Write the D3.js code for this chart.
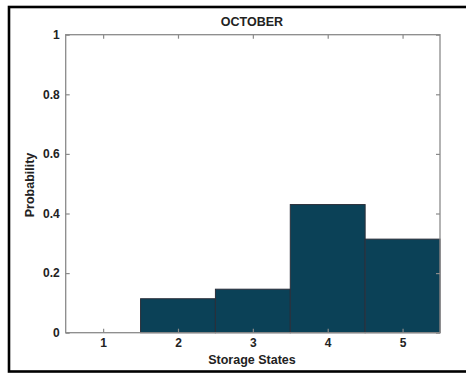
<!DOCTYPE html>
<html><head><meta charset="utf-8">
<script src="https://cdn.jsdelivr.net/npm/d3@7"></script>
<style>body{margin:0;background:#fff}svg{display:block}</style>
</head><body>
<svg id="c" width="466" height="374"></svg>
<script>
const categories = [1, 2, 3, 4, 5];
const probabilities = [0, 0.114, 0.146, 0.430, 0.314];
const yTicks = [0, 0.2, 0.4, 0.6, 0.8, 1];
const yTickLabels = ["0", "0.2", "0.4", "0.6", "0.8", "1"];
const title = "OCTOBER";
const xLabel = "Storage States";
const yLabel = "Probability";

const svg = d3.select("#c");
const m = {l: 65.7, r: 440, t: 34.7, b: 332.7};

// outer frame
svg.append("rect").attr("x", 9).attr("y", 7).attr("width", 470).attr("height", 364.5)
  .attr("fill", "none").attr("stroke", "#000").attr("stroke-width", 2.6);

const x = d3.scaleLinear().domain([0.5, 5.5]).range([m.l, m.r]);
const y = d3.scaleLinear().domain([0, 1]).range([m.b, m.t]);

const font = "'Liberation Sans', Arial, sans-serif";

// bars
svg.append("g").selectAll("rect").data(categories.map((c, i) => ({c, v: probabilities[i]})).filter(d => d.v > 0))
  .join("rect")
  .attr("x", d => x(d.c - 0.5)).attr("width", d => x(d.c + 0.5) - x(d.c - 0.5))
  .attr("y", d => y(d.v)).attr("height", d => y(0) - y(d.v))
  .attr("fill", "#0b4157").attr("stroke", "#2b2f3a").attr("stroke-width", 1);

const axisColor = "#8a8a8a";
svg.append("rect").attr("x", m.l).attr("y", m.t).attr("width", m.r - m.l).attr("height", m.b - m.t)
  .attr("fill", "none").attr("stroke", axisColor).attr("stroke-width", 1.3);

const xb = svg.append("g").attr("transform", `translate(0,${m.b})`)
  .call(d3.axisBottom(x).tickValues(categories).tickSize(-4).tickPadding(6).tickFormat(d3.format("d")));
const yl = svg.append("g").attr("transform", `translate(${m.l},0)`)
  .call(d3.axisLeft(y).tickValues(yTicks).tickSize(-4).tickPadding(6).tickFormat((d, i) => yTickLabels[i]));
const xt = svg.append("g").attr("transform", `translate(0,${m.t})`)
  .call(d3.axisTop(x).tickValues(categories).tickSize(-4).tickFormat(""));
const yr = svg.append("g").attr("transform", `translate(${m.r},0)`)
  .call(d3.axisRight(y).tickValues(yTicks).tickSize(-4).tickFormat(""));

[xb, yl, xt, yr].forEach(g => {
  g.select(".domain").remove();
  g.selectAll(".tick line").attr("stroke", axisColor).attr("stroke-width", 1.2);
  g.selectAll("text").attr("font-family", font).attr("font-weight", "bold")
    .attr("font-size", 12).attr("fill", "#222");
});

svg.append("text").attr("x", 252).attr("y", 25.5).attr("text-anchor", "middle")
  .attr("font-family", font).attr("font-weight", "bold").attr("font-size", 12.5).attr("fill", "#222")
  .text(title);
svg.append("text").attr("x", 252).attr("y", 364).attr("text-anchor", "middle")
  .attr("font-family", font).attr("font-weight", "bold").attr("font-size", 12.5).attr("fill", "#222")
  .text(xLabel);
svg.append("text").attr("transform", `translate(34,185) rotate(-90)`).attr("text-anchor", "middle")
  .attr("font-family", font).attr("font-weight", "bold").attr("font-size", 12.5).attr("fill", "#222")
  .text(yLabel);
</script>
</body></html>
